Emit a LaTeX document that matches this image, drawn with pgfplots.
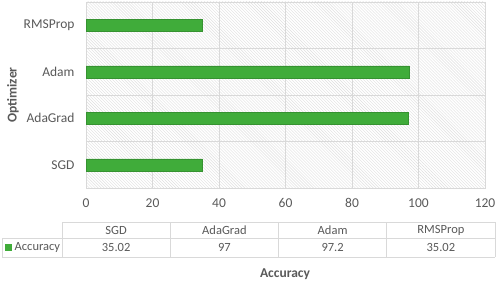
\documentclass[border=0pt]{standalone}
\usepackage{pgfplots}
\pgfplotsset{compat=1.18}
\usetikzlibrary{patterns}
\usepackage{fontspec}
\setmainfont{Carlito}
\definecolor{barg}{RGB}{64,172,58}
\definecolor{gridg}{RGB}{217,217,217}
\definecolor{txt}{RGB}{89,89,89}
\definecolor{hatch}{RGB}{222,222,222}
\begin{document}
\begin{tikzpicture}[x=1bp,y=1bp]
\path[use as bounding box] (0,0) rectangle (498,284);
\begin{axis}[
  at={(86bp,96bp)}, anchor=south west,
  scale only axis, width=399bp, height=186bp,
  xbar, bar width=12bp,
  xmin=0, xmax=120, ymin=-0.5, ymax=3.5,
  ytick={0,1,2,3}, yticklabels={SGD,AdaGrad,Adam,RMSProp},
  minor ytick={-0.5,0.5,1.5,2.5,3.5},
  xtick={0,20,...,120},
  /pgf/number format/assume math mode=true,
  xmajorgrids, yminorgrids,
  grid style={draw=gridg, line width=0.9bp},
  minor grid style={draw=gridg, line width=0.9bp},
  axis line style={draw=gridg, line width=0.9bp},
  major tick length=0pt, minor tick length=0pt,
  tick style={draw=none},
  ticklabel style={font=\fontsize{13.5bp}{15bp}\selectfont, text=txt},
  xticklabel style={yshift=-7bp},
  yticklabel style={xshift=-8bp},
  axis background/.style={pattern=north west lines, pattern color=hatch},
]
\addplot[fill=barg, draw=barg!85!black, line width=0.4bp] coordinates {(35.02,0) (97,1) (97.2,2) (35.02,3)};
\end{axis}
% y label
\node[rotate=90, font=\fontsize{13.5bp}{15bp}\selectfont\bfseries, text=txt] at (13,189) {Optimizer};
% data table
\begin{scope}[draw=gridg, line width=0.9bp]
\draw (62,62) -- (495,62);
\draw (2,46) -- (495,46);
\draw (2,27) -- (495,27);
\draw (2,46) -- (2,27);
\foreach \x in {62,170.25,278.5,386.75,495} \draw (\x,62) -- (\x,27);
\end{scope}
\begin{scope}[font=\fontsize{12.5bp}{14bp}\selectfont, text=txt]
\node at (116.1,54) {SGD};
\node at (224.4,54) {AdaGrad};
\node at (332.6,54) {Adam};
\node at (440.9,54) {RMSProp};
\node at (116.1,36.5) {35.02};
\node at (224.4,36.5) {97};
\node at (332.6,36.5) {97.2};
\node at (440.9,36.5) {35.02};
\fill[barg] (5,33.5) rectangle (11.5,40);
\node[anchor=west, inner sep=0pt] at (14.5,36.5) {Accuracy};
\end{scope}
\node[font=\fontsize{13.5bp}{15bp}\selectfont\bfseries, text=txt] at (285,10) {Accuracy};
\end{tikzpicture}
\end{document}
